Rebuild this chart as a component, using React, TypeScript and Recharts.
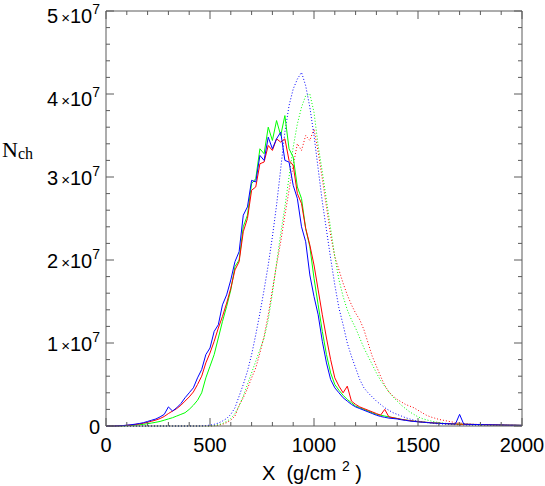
import { LineChart, Line, XAxis, YAxis, Label } from 'recharts';

// slant depth grid (g/cm^2), step 20
const DEPTH = [
  0, 20, 40, 60, 80, 100, 120, 140, 160, 180,
  200, 220, 240, 260, 280, 300, 320, 340, 360, 380,
  400, 420, 440, 460, 480, 500, 520, 540, 560, 580,
  600, 620, 640, 660, 680, 700, 720, 740, 760, 780,
  800, 820, 840, 860, 880, 900, 920, 940, 960, 980,
  1000, 1020, 1040, 1060, 1080, 1100, 1120, 1140, 1160, 1180,
  1200, 1220, 1240, 1260, 1280, 1300, 1320, 1340, 1360, 1380,
  1400, 1420, 1440, 1460, 1480, 1500, 1520, 1540, 1560, 1580,
  1600, 1620, 1640, 1660, 1680, 1700, 1720, 1740, 1760, 1780,
  1800, 1820, 1840, 1860, 1880, 1900, 1920, 1940, 1960, 1980, 2000,
];

// N_ch in units of 1e6
const SOLID_BLUE = [
  0, 0, 0, 0.02, 0.05, 0.1, 0.15, 0.22, 0.3, 0.4,
  0.55, 0.7, 0.85, 1.1, 1.4, 2.3, 1.8, 2.2, 2.7, 3.4,
  4.0, 4.6, 5.8, 6.8, 8.6, 9.4, 11.4, 12.2, 14.6, 15.8,
  17.6, 19.8, 21.0, 25.4, 26.4, 29.6, 29.4, 32.6, 32.0, 34.8,
  33.4, 34.6, 35.4, 32.0, 31.8, 29.0, 27.4, 24.0, 22.2, 18.2,
  15.6, 13.4, 10.2, 7.6, 5.6, 4.6, 4.0, 3.4, 3.0, 2.6,
  2.3, 2.1, 1.9, 1.7, 1.5, 1.3, 1.15, 1.05, 0.95, 0.9,
  0.85, 0.75, 0.68, 0.6, 0.55, 0.5, 0.46, 0.42, 0.38, 0.35,
  0.32, 0.3, 0.28, 0.26, 0.24, 1.4, 0.22, 0.2, 0.19, 0.18,
  0.17, 0.16, 0.15, 0.14, 0.13, 0.12, 0.11, 0.1, 0.1, 0.09, 0.08,
];

const SOLID_RED = [
  0, 0, 0, 0.02, 0.04, 0.08, 0.12, 0.18, 0.25, 0.33,
  0.45, 0.58, 0.72, 0.9, 1.15, 1.5, 1.8, 2.1, 2.5, 3.0,
  3.5, 4.1, 5.0, 6.0, 7.6, 8.8, 10.2, 11.8, 13.2, 14.8,
  16.6, 18.8, 19.8, 23.4, 25.0, 28.4, 28.8, 31.6, 31.8, 33.8,
  33.2, 34.6, 34.2, 34.6, 32.0, 31.4, 28.0, 26.8, 23.8, 21.8,
  19.4, 16.4, 13.4, 10.6, 8.0, 5.8, 4.8, 4.0, 4.8, 3.0,
  2.6, 2.3, 2.1, 1.9, 1.7, 1.5, 1.3, 2.0, 1.1, 1.0,
  0.9, 0.8, 0.72, 0.65, 0.58, 0.52, 0.48, 0.44, 0.4, 0.36,
  0.33, 0.3, 0.28, 0.26, 0.24, 0.22, 0.21, 0.2, 0.19, 0.18,
  0.17, 0.16, 0.15, 0.14, 0.13, 0.12, 0.11, 0.1, 0.1, 0.09, 0.08,
];

const SOLID_GREEN = [
  0, 0, 0, 0, 0.02, 0.04, 0.07, 0.1, 0.15, 0.2,
  0.28, 0.36, 0.45, 0.55, 0.7, 0.85, 1.0, 1.2, 1.4, 1.6,
  2.0, 2.5, 3.1, 4.0, 5.8, 7.2, 8.6, 10.6, 12.6, 14.4,
  16.4, 19.2, 20.0, 24.0, 25.4, 29.2, 29.8, 33.4, 32.8, 36.0,
  34.4, 36.8, 35.0, 37.4, 33.4, 32.4, 28.8, 27.4, 23.8, 21.6,
  17.8, 14.6, 11.4, 8.6, 6.4, 5.0, 4.3, 3.7, 3.2, 2.8,
  2.4, 2.2, 2.0, 1.8, 1.6, 1.4, 1.3, 1.2, 1.1, 1.0,
  0.9, 0.8, 0.72, 0.65, 0.58, 0.52, 0.48, 0.44, 0.4, 0.36,
  0.33, 0.3, 0.28, 0.26, 0.24, 0.22, 0.21, 0.2, 0.19, 0.18,
  0.17, 0.16, 0.15, 0.14, 0.13, 0.12, 0.11, 0.1, 0.1, 0.09, 0.08,
];

const DOTTED_BLUE = [
  0, 0, 0, 0, 0, 0, 0, 0, 0, 0,
  0, 0, 0, 0, 0, 0, 0, 0, 0, 0,
  0, 0, 0, 0.02, 0.05, 0.1, 0.2, 0.35, 0.6, 0.9,
  1.4, 2.2, 3.6, 5.0, 6.6, 8.6, 11.0, 13.6, 16.4, 19.4,
  22.8, 26.6, 31.0, 35.4, 38.6, 40.6, 41.8, 42.6, 41.0, 38.4,
  35.0, 31.0, 27.0, 23.6, 20.2, 17.0, 14.2, 12.2, 10.0, 8.4,
  7.0, 5.6, 4.6, 4.0, 3.5, 3.0, 2.6, 2.2, 1.9, 1.6,
  1.4, 1.2, 1.0, 0.85, 0.7, 0.6, 0.5, 0.42, 0.36, 0.3,
  0.26, 0.23, 0.2, 0.18, 0.16, 0.14, 0.13, 0.12, 0.11, 0.1,
  0.09, 0.09, 0.08, 0.08, 0.07, 0.07, 0.06, 0.06, 0.05, 0.05, 0.05,
];

const DOTTED_GREEN = [
  0, 0, 0, 0, 0, 0, 0, 0, 0, 0,
  0, 0, 0, 0, 0, 0, 0, 0, 0, 0,
  0, 0, 0, 0, 0, 0, 0.05, 0.15, 0.3, 0.55,
  0.9, 1.5, 2.4, 3.6, 5.0, 6.4, 7.8, 9.2, 10.6, 12.8,
  16.0, 19.6, 23.2, 26.4, 30.0, 33.6, 36.4, 38.4, 39.8, 40.0,
  37.8, 33.8, 30.6, 27.2, 23.8, 20.4, 17.6, 15.6, 14.0, 12.8,
  11.8, 10.6, 9.4, 8.4, 7.4, 6.4, 5.5, 4.8, 4.1, 3.5,
  3.0, 2.5, 2.1, 1.7, 1.4, 1.1, 0.9, 0.75, 0.62, 0.5,
  0.42, 0.36, 0.3, 0.26, 0.22, 0.19, 0.17, 0.15, 0.13, 0.12,
  0.11, 0.1, 0.09, 0.09, 0.08, 0.08, 0.07, 0.07, 0.06, 0.06, 0.05,
];

const DOTTED_RED = [
  0, 0, 0, 0, 0, 0, 0, 0, 0, 0,
  0, 0, 0, 0, 0, 0, 0, 0, 0, 0,
  0, 0, 0, 0, 0, 0, 0.03, 0.1, 0.2, 0.4,
  0.7, 1.2, 2.5, 3.4, 4.5, 5.8, 7.0, 8.8, 10.8, 13.4,
  16.4, 19.4, 22.2, 25.4, 28.4, 31.4, 34.0, 33.2, 35.0, 34.4,
  35.8, 33.0, 29.8, 26.4, 23.0, 20.4, 18.8, 17.2, 15.8, 14.6,
  13.6, 12.8, 11.6, 10.0, 8.4, 7.2, 6.0, 4.9, 4.1, 3.6,
  3.2, 2.9, 2.6, 2.4, 2.2, 1.9, 1.6, 1.3, 1.1, 0.95,
  0.8, 0.7, 0.6, 0.5, 0.42, 0.36, 0.3, 0.26, 0.22, 0.2,
  0.18, 0.16, 0.14, 0.13, 0.12, 0.11, 0.1, 0.09, 0.08, 0.07, 0.06,
];

const X_TICKS = [
  0, 100, 200, 300, 400, 500, 600, 700, 800, 900, 1000,
  1100, 1200, 1300, 1400, 1500, 1600, 1700, 1800, 1900, 2000,
];
const Y_TICKS = [
  0, 2, 4, 6, 8, 10, 12, 14, 16, 18, 20, 22, 24, 26,
  28, 30, 32, 34, 36, 38, 40, 42, 44, 46, 48, 50,
];

const rows = DEPTH.map((x, i) => ({
  x,
  sb: SOLID_BLUE[i],
  sr: SOLID_RED[i],
  sg: SOLID_GREEN[i],
  db: DOTTED_BLUE[i],
  dr: DOTTED_RED[i],
  dg: DOTTED_GREEN[i],
}));

const AXIS = '#5a5a5a';
const SANS = '"Liberation Sans", Arial, sans-serif';
const SERIF = '"Liberation Serif", "Times New Roman", serif';

const tickLen = (major: boolean) => (major ? 8 : 4);

const BottomTick = (props: any) => {
  const { x, y, payload } = props;
  const major = payload.value % 500 === 0;
  return (
    <g>
      <line x1={x} y1={y} x2={x} y2={y - tickLen(major)} stroke={AXIS} />
      {major && (
        <text x={x} y={y + 26} textAnchor="middle" fontFamily={SANS} fontSize={20} fill="#000">
          {payload.value}
        </text>
      )}
    </g>
  );
};

const TopTick = (props: any) => {
  const { x, y, payload } = props;
  const major = payload.value % 500 === 0;
  return <line x1={x} y1={y} x2={x} y2={y + tickLen(major)} stroke={AXIS} />;
};

const LeftTick = (props: any) => {
  const { x, y, payload } = props;
  const v = payload.value;
  const major = v % 10 === 0;
  // the two upper labels sit a little below their ticks in the original
  const dy = v >= 40 ? 12 : 8;
  return (
    <g>
      <line x1={x} y1={y} x2={x + tickLen(major)} y2={y} stroke={AXIS} />
      {major && (
        <text x={x - 6} y={y + dy} textAnchor="end" fontFamily={SANS} fontSize={20} fill="#000">
          {v === 0 ? (
            '0'
          ) : (
            <>
              <tspan>{v / 10}</tspan>
              <tspan fontSize={15} dx={3}>×</tspan>
              <tspan>10</tspan>
              <tspan fontSize={14} dy={-9}>7</tspan>
            </>
          )}
        </text>
      )}
    </g>
  );
};

const RightTick = (props: any) => {
  const { x, y, payload } = props;
  const major = payload.value % 10 === 0;
  return <line x1={x} y1={y} x2={x - tickLen(major)} y2={y} stroke={AXIS} />;
};

const XTitle = (props: any) => {
  const { viewBox } = props;
  const cx = viewBox.x + viewBox.width / 2 - 2;
  return (
    <text x={cx} y={viewBox.y + 54} textAnchor="middle" fontFamily={SANS} fontSize={20} fill="#000" style={{ whiteSpace: 'pre' }}>
      <tspan>{'X  (g/cm '}</tspan>
      <tspan fontSize={14} dy={-9}>2</tspan>
      <tspan dy={9}>{' )'}</tspan>
    </text>
  );
};

const YTitle = () => (
  <text x={2} y={157} fontFamily={SERIF} fontSize={22} fill="#000">
    <tspan>N</tspan>
    <tspan fontSize={16} dy={2}>ch</tspan>
  </text>
);

const series = [
  { key: 'dr', color: '#ff0000', dotted: true },
  { key: 'dg', color: '#00ff00', dotted: true },
  { key: 'db', color: '#0000ff', dotted: true },
  { key: 'sg', color: '#00ff00', dotted: false },
  { key: 'sr', color: '#ff0000', dotted: false },
  { key: 'sb', color: '#0000ff', dotted: false },
];

export default function App() {
  return (
    <div style={{ position: 'absolute', left: 0, top: 0, background: '#fff' }}>
      <LineChart width={545} height={486} data={rows} margin={{ top: 10, right: 22, bottom: 0, left: 0 }}>
        <XAxis
          dataKey="x"
          type="number"
          domain={[0, 2000]}
          ticks={X_TICKS}
          interval={0}
          height={60}
          tickSize={0}
          tickMargin={0}
          tickLine={false}
          tick={<BottomTick />}
          axisLine={{ stroke: AXIS }}
        >
          <Label content={<XTitle />} />
        </XAxis>
        <XAxis
          xAxisId="top"
          orientation="top"
          dataKey="x"
          type="number"
          domain={[0, 2000]}
          ticks={X_TICKS}
          interval={0}
          height={1}
          tickSize={0}
          tickMargin={0}
          tickLine={false}
          tick={<TopTick />}
          axisLine={{ stroke: AXIS }}
        />
        <YAxis
          type="number"
          domain={[0, 50]}
          ticks={Y_TICKS}
          interval={0}
          width={106}
          tickSize={0}
          tickMargin={0}
          tickLine={false}
          tick={<LeftTick />}
          axisLine={{ stroke: AXIS }}
        >
          <Label content={<YTitle />} />
        </YAxis>
        <YAxis
          yAxisId="right"
          orientation="right"
          type="number"
          domain={[0, 50]}
          ticks={Y_TICKS}
          interval={0}
          width={1}
          tickSize={0}
          tickMargin={0}
          tickLine={false}
          tick={<RightTick />}
          axisLine={{ stroke: AXIS }}
        />
        {/* invisible series so the mirrored top/right frame axes get drawn */}
        <Line
          xAxisId="top"
          yAxisId="right"
          dataKey="sb"
          stroke="none"
          dot={false}
          activeDot={false}
          legendType="none"
          isAnimationActive={false}
        />
        {series.map((s) => (
          <Line
            key={s.key}
            dataKey={s.key}
            type="linear"
            stroke={s.color}
            strokeWidth={1}
            strokeDasharray={s.dotted ? '1 2' : undefined}
            dot={false}
            activeDot={false}
            isAnimationActive={false}
          />
        ))}
      </LineChart>
    </div>
  );
}
